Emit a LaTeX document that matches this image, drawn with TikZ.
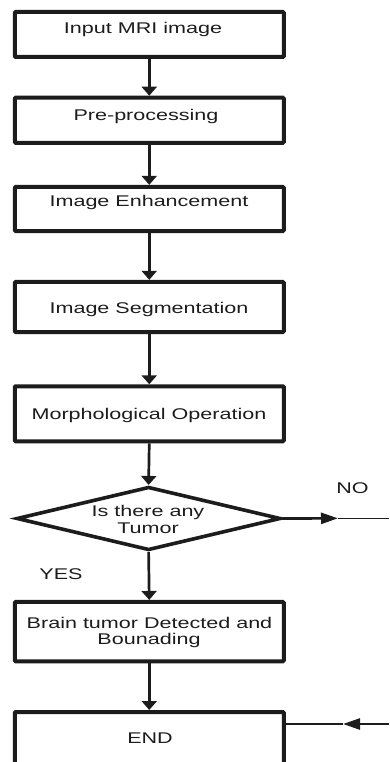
\documentclass[tikz,border=0pt]{standalone}
\usepackage{fontspec}
\setmainfont[FakeStretch=1.39]{Liberation Sans}
\usetikzlibrary{arrows.meta,shapes.geometric}
\definecolor{ink}{HTML}{1C1C1C}
\begin{document}
\begin{tikzpicture}[x={(1pt,0pt)},y={(0pt,-1pt)},
  box/.style={draw=ink, line width=4pt, rounded corners=1pt, minimum width=269pt, inner sep=0pt},
  decision/.style={draw=ink, diamond, line width=3.6pt, minimum width=264pt, minimum height=63.5pt, inner sep=0pt},
  txt/.style={anchor=base, inner sep=0pt, text=ink, font=\fontsize{15.5}{16.5}\selectfont},
  flow/.style={draw=ink, line width=2.7pt, -{Triangle[length=9pt,width=15pt]}},
  hflow/.style={draw=ink, line width=2.7pt, -{Triangle[length=17pt,width=11pt]}},
  thinline/.style={draw=ink, line width=1.2pt}]
\useasboundingbox (0,0) rectangle (389,762);

% boxes
\node[box, minimum height=45pt] (b1) at (149.25,34.5) {};
\node[box, minimum height=45.2pt] (b2) at (149.25,120.3) {};
\node[box, minimum height=44.3pt] (b3) at (149.25,209) {};
\node[box, minimum height=50.3pt] (b4) at (149.25,307) {};
\node[box, minimum height=55pt] (b5) at (149.25,413.8) {};
\node[decision] (d) at (148.6,518.5) {};
\node[box, minimum height=59.3pt] (b6) at (149.25,631.6) {};
\node[box, minimum height=58pt] (b7) at (149.25,741) {};

% texts
\node[txt] (t1) at (143,34) {Input MRI image};
\node[txt] (t2) at (146,121) {Pre-processing};
\node[txt] (t3) at (149,206) {Image Enhancement};
\node[txt] (t4) at (149,313) {Image Segmentation};
\node[txt] (t5) at (149,419) {Morphological Operation};
\node[txt] (td1) at (148,516) {Is there any};
\node[txt] (td2) at (148,533) {Tumor};
\node[txt] (t6a) at (149.5,628) {Brain tumor Detected and};
\node[txt] (t6b) at (149,644) {Bounading};
\node[txt] (t7) at (150,743.5) {END};
\node[txt] (yes) at (61,579) {YES};
\node[txt] (no) at (352.5,493) {NO};

% connectors
\draw[flow] (b1.south) -- (b2.north);
\draw[flow] (b2.south) -- (b3.north);
\draw[flow] (b3.south) -- (b4.north);
\draw[flow] (b4.south) -- (b5.north);
\draw[flow] (b5.south) -- (d.north);
\draw[flow] (d.south) -- (b6.north);
\draw[flow] (b6.south) -- (b7.north);

\coordinate (nomid) at (338,518.3);
\coordinate (noend) at (389,518.3);
\draw[hflow] (d.east) -- (nomid);
\draw[thinline] (nomid) -- (noend);

\coordinate (endstart) at (389,724);
\coordinate (endmid) at (343,724);
\draw[hflow] (endstart) -- (endmid);
\draw[thinline] (endmid) -- (b7.east |- endmid);
\end{tikzpicture}
\end{document}
